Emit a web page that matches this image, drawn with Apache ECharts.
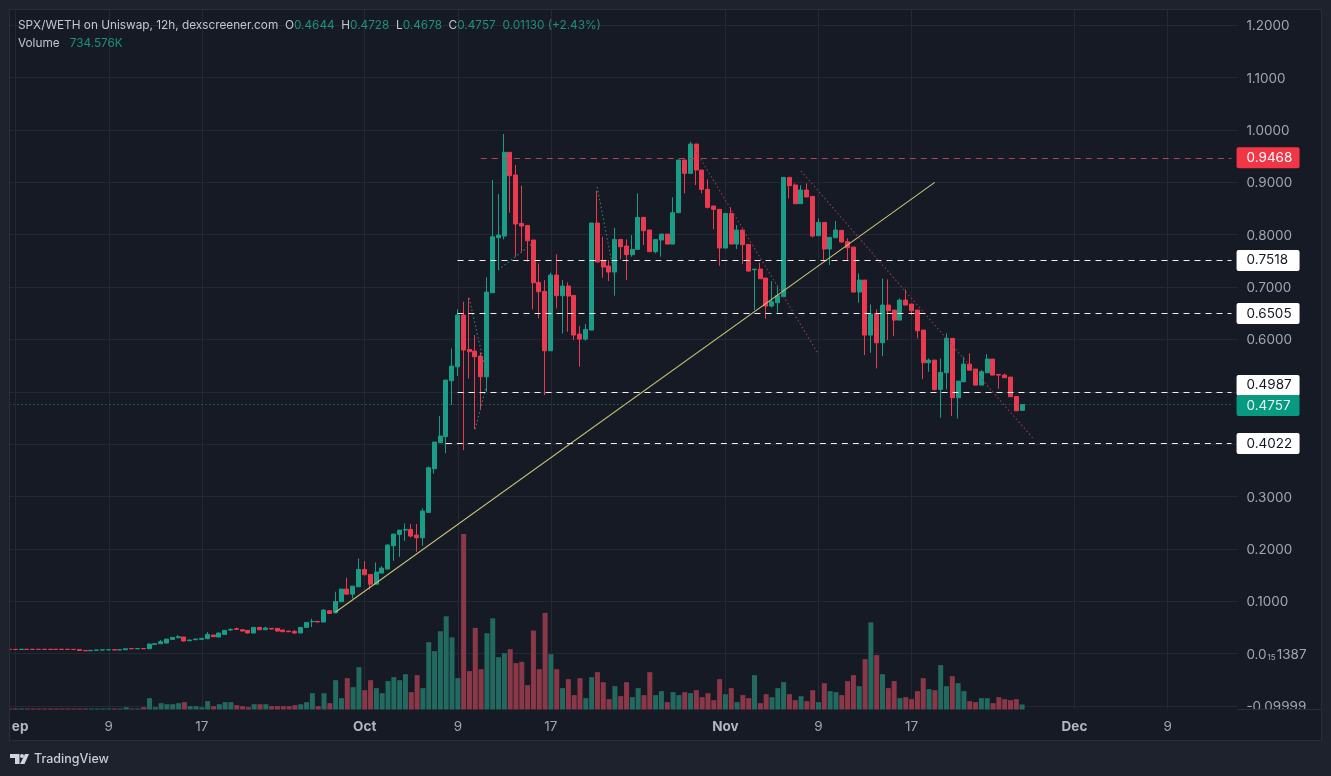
<!DOCTYPE html>
<html>
<head>
    <meta charset="utf-8">
    <title>SPX/WETH on Uniswap</title>
    <style>
        html, body { margin: 0; padding: 0; background: #1e222d; }
        #chart { width: 1331px; height: 776px; }
    </style>
</head>
<body>
<div id="chart"></div>
<script src="https://cdn.jsdelivr.net/npm/echarts@6/dist/echarts.min.js"></script>
<script type="text/javascript">
    // 12h candles, first one is 31 Aug 12:00
    var opens = [.0080,
        .0079,.0077,.0080,.0080,.0080,.0080,.0080,.0080,.0080,.0080,
        .0079,.0075,.0058,.0053,.0060,.0066,.0070,.0072,.0068,.0072,
        .0094,.0090,.0094,.0091,.0174,.0187,.0199,.0270,.0301,.0314,
        .0244,.0263,.0270,.0282,.0352,.0314,.0365,.0448,.0473,.0454,
        .0442,.0391,.0499,.0454,.0480,.0480,.0448,.0429,.0422,.0391,
        .0499,.0607,.0614,.0601,.0816,.0777,.0988,.1230,.1134,.1275,
        .1606,.1510,.1325,.1536,.1612,.2058,.2275,.2357,.2370,.2262,
        .2211,.2695,.3530,.4026,.4141,.5210,.5477,.6464,.5808,.5777,
        .5681,.5286,.6891,.7942,.7974,.9573,.9140,.8216,.8178,.7898,
        .7089,.6917,.5783,.7229,.6834,.7019,.6840,.6101,.6006,.6178,
        .8223,.7503,.7401,.7286,.7910,.7783,.7618,.7719,.8331,.8089,
        .7675,.7898,.8012,.7821,.8420,.9427,.9172,.9732,.9235,.8866,
        .8548,.8484,.7745,.8407,.7821,.8089,.7815,.7331,.7343,.7172,
        .6637,.6700,.6815,.9095,.8949,.8592,.8853,.8732,.7980,.8235,
        .7726,.7942,.8083,.7866,.7764,.6904,.7133,.6082,.6496,.5936,
        .6656,.6560,.6369,.6751,.6675,.6560,.6178,.5554,.5605,.5044,
        .5363,.6019,.4885,.5191,.5528,.5433,.5127,.5362,.5624,.5331,
        .5318,.5280,.4910,.4644];
    var closes = [.0078,
        .0077,.0080,.0078,.0078,.0078,.0078,.0078,.0078,.0078,.0078,
        .0077,.0058,.0052,.0060,.0066,.0070,.0072,.0068,.0072,.0090,
        .0090,.0094,.0091,.0180,.0187,.0225,.0276,.0308,.0320,.0238,
        .0257,.0276,.0289,.0365,.0321,.0391,.0442,.0461,.0461,.0429,
        .0391,.0499,.0454,.0486,.0467,.0429,.0416,.0416,.0391,.0499,
        .0594,.0614,.0601,.0830,.0766,.0994,.1230,.1134,.1287,.1606,
        .1504,.1325,.1555,.1631,.2071,.2281,.2357,.2370,.2243,.2211,
        .2721,.3549,.4039,.4154,.5224,.5490,.6464,.5796,.5764,.5668,
        .5286,.6904,.7961,.7993,.9573,.9127,.8204,.8165,.7885,.7082,
        .6910,.5783,.7229,.6834,.7019,.6828,.6082,.6006,.6191,.8223,
        .7477,.7382,.7286,.7910,.7770,.7618,.7719,.8331,.8076,.7675,
        .7910,.8012,.7821,.8420,.9427,.9172,.9732,.9235,.8866,.8522,
        .8484,.7745,.8407,.7821,.8089,.7809,.7305,.7343,.7159,.6637,
        .6719,.6834,.9095,.8936,.8592,.8853,.8720,.7974,.8235,.7726,
        .7949,.8089,.7860,.7751,.6904,.7133,.6082,.6484,.5936,.6656,
        .6547,.6369,.6751,.6656,.6547,.6165,.5554,.5605,.5044,.5369,
        .6019,.4885,.5203,.5528,.5413,.5127,.5382,.5624,.5318,.5318,
        .5267,.4904,.4636,.4757];
    var lows = [.0076,
        .0075,.0076,.0077,.0076,.0076,.0076,.0076,.0076,.0076,.0076,
        .0074,.0056,.0050,.0052,.0059,.0065,.0069,.0067,.0067,.0071,
        .0089,.0089,.0090,.0085,.0174,.0180,.0199,.0270,.0295,.0232,
        .0238,.0257,.0270,.0282,.0315,.0314,.0365,.0435,.0448,.0422,
        .0385,.0391,.0448,.0454,.0461,.0422,.0410,.0410,.0385,.0391,
        .0493,.0505,.0594,.0601,.0760,.0770,.0988,.1128,.1053,.1275,
        .1498,.1224,.1325,.1530,.1612,.1771,.1848,.2153,.2217,.1943,
        .2058,.2695,.3434,.4026,.3823,.4745,.5299,.3885,.5254,.4286,
        .4649,.4999,.6891,.7324,.7911,.8420,.7579,.7675,.7484,.6573,
        .6401,.4936,.5783,.6592,.6114,.6146,.5987,.5477,.5974,.6178,
        .7477,.7178,.7114,.6834,.7528,.7133,.7579,.7719,.7802,.7675,
        .7643,.7579,.7821,.7821,.8420,.8790,.9172,.8949,.8790,.8503,
        .8102,.7407,.7745,.7821,.7726,.7439,.7293,.6560,.7159,.6395,
        .6611,.6509,.6815,.8694,.8592,.8592,.8720,.7949,.7980,.7516,
        .7420,.7942,.7860,.7516,.6904,.6700,.5700,.5745,.5445,.5681,
        .5986,.6063,.6369,.6656,.6465,.6019,.5241,.5382,.5019,.4502,
        .5044,.4534,.4490,.5191,.5413,.5127,.5127,.5362,.5318,.5057,
        .5267,.4904,.4636,.4644];
    var highs = [.0081,
        .0081,.0090,.0081,.0081,.0081,.0081,.0081,.0081,.0081,.0081,
        .0080,.0076,.0059,.0061,.0067,.0071,.0073,.0073,.0073,.0091,
        .0095,.0095,.0095,.0193,.0187,.0257,.0276,.0315,.0352,.0320,
        .0263,.0282,.0295,.0410,.0358,.0397,.0448,.0480,.0493,.0461,
        .0448,.0505,.0505,.0512,.0486,.0486,.0454,.0435,.0448,.0505,
        .0600,.0665,.0620,.0843,.0824,.1180,.1236,.1446,.1293,.1816,
        .1765,.1516,.1739,.1669,.2090,.2281,.2357,.2485,.2472,.2472,
        .2772,.3568,.4039,.4536,.5224,.5827,.6573,.6719,.6796,.6082,
        .5751,.7184,.9044,.8777,.9923,.9573,.9331,.8936,.8178,.7898,
        .7452,.7133,.7273,.7624,.7133,.7089,.6840,.6255,.6293,.8223,
        .8841,.7961,.7516,.8133,.7910,.7910,.7993,.8790,.8331,.8089,
        .7910,.8012,.8012,.8713,.9427,.9427,.9777,.9732,.9235,.9057,
        .8548,.8484,.8407,.8522,.8184,.8089,.7815,.7343,.7465,.7172,
        .7114,.7038,.9095,.9095,.8981,.8949,.8981,.8732,.8312,.8235,
        .7949,.8261,.8083,.7930,.7764,.7261,.7133,.6668,.6573,.7165,
        .7146,.6560,.6783,.6955,.6675,.6560,.6178,.5637,.5605,.5637,
        .6114,.6019,.5203,.5668,.5732,.5433,.5413,.5719,.5624,.5331,
        .5350,.5280,.4910,.4757];
    // volume in millions
    var volumes = [.15,
        .15,.15,.15,.15,.15,.15,.15,.15,.15,.15,
        .15,.15,.15,.15,.15,.15,.15,.15,.15,.34,
        .15,.15,.34,1.67,.34,.93,.78,.78,.93,1.08,
        .49,.49,.34,1.23,.49,.78,1.08,1.08,.64,.49,
        .34,.78,.78,.78,.49,.49,.49,.49,.64,.78,
        1.08,2.40,.49,2.40,.93,4.31,1.67,4.61,3.28,6.22,
        2.84,4.31,3.14,2.40,4.17,4.75,4.31,5.19,2.55,5.05,
        3.14,9.90,8.58,11.5,13.7,10.6,4.61,25.8,5.64,12.0,
        5.93,11.2,13.4,7.69,8.28,8.87,6.81,7.0,3.58,11.6,
        5.93,14.2,8.13,5.93,3.14,4.46,2.11,4.61,1.67,4.75,
        5.49,4.02,1.52,3.43,1.96,4.02,1.81,3.14,2.11,5.49,
        2.11,2.70,1.08,2.55,2.11,2.55,2.40,2.84,1.81,2.40,
        1.37,4.46,2.25,3.14,1.08,2.11,1.67,5.05,.93,2.25,
        1.81,3.14,4.02,2.25,1.37,1.96,1.23,2.84,1.08,3.87,
        2.70,2.55,2.11,4.17,5.05,3.43,7.40,12.8,7.99,5.19,
        3.14,4.17,1.67,1.81,1.52,2.70,4.61,2.99,2.84,6.52,
        3.43,4.90,3.87,2.70,1.23,1.08,1.67,1.67,.93,1.81,
        1.52,1.37,1.52,.7346];

    var tickLabels = {
        '9-1': 'Sep', '9-9': '9', '9-17': '17',
        '10-1': 'Oct', '10-9': '9', '10-17': '17',
        '11-1': 'Nov', '11-9': '9', '11-17': '17',
        '12-1': 'Dec', '12-9': '9'
    };
    // from -0.1 up to 1.2, 0.5 and 0.4 sit behind the price tags
    var priceLabels = ['-0.09999', '0.0{sub|15}1387', '0.1000', '0.2000', '0.3000', '', '',
        '0.6000', '0.7000', '0.8000', '0.9000', '1.0000', '1.1000', '1.2000'];

    // the price levels drawn on the chart: [price, first category]
    var redLevel = [0.9468, 81];
    var whiteLevels = [[0.7518, 77], [0.6505, 77], [0.4987, 77], [0.4022, 75]];
    var lastPrice = 0.4757;
    // trend lines: [from category, from price, to category, to price]
    var yellowLine = [56, 0.0789, 159, 0.8999];
    var pinkLines = [[117, 0.9771, 139, 0.5721], [136, 0.9217, 176, 0.4097]];
    var tealLines = [[79, 0.6791, 82, 0.5320], [82, 0.5129, 80, 0.4269], [84, 0.7326, 90, 0.7842], [101, 0.8911, 104, 0.7192]];

    var categories = [];
    for (var c = 0; c < 212; c++) {
        var d = new Date(Date.UTC(2024, 7, 31, 12) + c * 12 * 3600 * 1000);
        categories.push(d.getUTCHours() === 0 ? (d.getUTCMonth() + 1) + '-' + d.getUTCDate() : '');
    }

    var UP = '#1a9c86', DOWN = '#ea3a50';
    var GRID = '#242833', TEXT = '#a2a5ad';
    var FONT = 'Inter, Roboto, sans-serif';

    function tag(bg, color, dy) {
        return {
            show: true, position: 'end', distance: 5, offset: [0, dy || 0],
            formatter: function (p) { return p.value.toFixed(4); },
            backgroundColor: bg, color: color, borderRadius: 2,
            fontFamily: FONT, fontSize: 13.5, lineHeight: 21, padding: [0, 6, 0, 10], width: 47, align: 'left'
        };
    }
    function segment(l, style) {
        return [{xAxis: l[0], yAxis: l[1], lineStyle: style, label: {show: false}}, {xAxis: l[2], yAxis: l[3]}];
    }
    function level(price, from, style, label) {
        return [{xAxis: from, yAxis: price, value: price, lineStyle: style, label: label}, {xAxis: 210, yAxis: price}];
    }

    var markLines = [];
    markLines.push(segment(yellowLine, {color: '#c4c273', type: 'solid', width: 1.1}));
    pinkLines.forEach(function (l) {
        markLines.push(segment(l, {color: '#8d3f52', type: [1.5, 2.5], width: 1.1}));
    });
    tealLines.forEach(function (l) {
        markLines.push(segment(l, {color: '#3a7d78', type: [1.5, 2.5], width: 1.1}));
    });
    markLines.push(level(redLevel[0], redLevel[1], {color: '#ad465a', type: [6, 5], width: 1}, tag('#f23645', '#ffffff')));
    whiteLevels.forEach(function (w) {
        // the 0.4987 tag is pushed up off the green last-price tag
        markLines.push(level(w[0], w[1], {color: '#f0f0f0', type: [6, 5], width: 1}, tag('#ffffff', '#131722', w[0] === 0.4987 ? -7 : 0.5)));
    });
    markLines.push(level(lastPrice, 0, {color: '#1f8a78', type: [1, 3], width: 1}, tag('#089981', '#e8f5f2', 1)));

    var candles = opens.map(function (o, i) { return [o, closes[i], lows[i], highs[i]]; });

    var myChart = echarts.init(document.getElementById('chart'));
    myChart.setOption({
        animation: false,
        backgroundColor: '#1e222d',
        title: {
            left: 18, top: 16, padding: 0,
            text: '{w|SPX/WETH on Uniswap, 12h, dexscreener.com  O}{g|0.4644}{w|  H}{g|0.4728}{w|  L}{g|0.4678}{w|  C}{g|0.4757  0.01130 (+2.43%)}\n{w|Volume}  {g|734.576K}',
            textStyle: {
                fontWeight: 'normal',
                rich: {
                    w: {color: '#c3c6ce', fontFamily: FONT, fontWeight: 'normal', fontSize: 11.8, lineHeight: 18},
                    g: {color: '#1f8f7c', fontFamily: FONT, fontWeight: 'normal', fontSize: 11.8, lineHeight: 18}
                }
            }
        },
        grid: [
            {left: 9.38, width: 1228, top: 25.3, height: 680.55},
            {left: 9.38, width: 1228, top: 10, height: 699.5}
        ],
        xAxis: [
            {type: 'category', gridIndex: 0, data: categories, boundaryGap: false, show: false},
            {
                type: 'category', gridIndex: 1, data: categories, boundaryGap: false,
                axisLine: {show: false}, axisTick: {show: false},
                axisLabel: {
                    interval: function (i, v) { return !!tickLabels[v]; },
                    formatter: function (v) {
                        var t = tickLabels[v] || '';
                        return isNaN(t) ? '{m|' + t + '}' : t;
                    },
                    color: TEXT, fontFamily: FONT, fontSize: 13.5, margin: 10,
                    rich: {m: {color: '#b4b7bf', fontFamily: FONT, fontSize: 13.5, fontWeight: 'bold'}}
                },
                splitLine: {
                    show: true,
                    interval: function (i, v) { return !!tickLabels[v]; },
                    lineStyle: {color: GRID, width: 1}
                }
            }
        ],
        yAxis: [
            {
                type: 'value', gridIndex: 0, position: 'right', min: -0.1, max: 1.2, interval: 0.1,
                axisLine: {show: false}, axisTick: {show: false},
                axisLabel: {
                    formatter: function (v, i) { return priceLabels[i]; },
                    color: TEXT, fontFamily: FONT, fontSize: 13.5, margin: 9, padding: [2, 0, 0, 0],
                    rich: {sub: {color: TEXT, fontFamily: FONT, fontSize: 8, verticalAlign: 'bottom', padding: [4, 1, 0, 1]}}
                },
                splitLine: {show: true, lineStyle: {color: GRID, width: 1}}
            },
            {type: 'value', gridIndex: 1, min: 0, max: 102.8, show: false}
        ],
        series: [
            {
                name: 'Volume', type: 'bar', xAxisIndex: 1, yAxisIndex: 1, barWidth: 5, z: 1,
                data: volumes,
                itemStyle: {
                    color: function (p) {
                        return closes[p.dataIndex] >= opens[p.dataIndex] ? '#22695f' : '#8a3848';
                    }
                }
            },
            {
                name: 'SPX/WETH', type: 'candlestick', xAxisIndex: 0, yAxisIndex: 0, barWidth: 4.5, z: 3,
                data: candles,
                itemStyle: {color: UP, color0: DOWN, borderColor: UP, borderColor0: DOWN, borderWidth: 1},
                markLine: {silent: true, symbol: 'none', animation: false, z: 4, data: markLines}
            }
        ],
        graphic: [
            // panel behind everything
            {type: 'rect', z: -1, shape: {x: 10, y: 10, width: 1311, height: 731}, style: {fill: '#161a25'}},
            // hides what falls outside the pane
            {type: 'rect', z: 50, shape: {x: 0, y: 0, width: 10, height: 776}, style: {fill: '#1e222d'}},
            {type: 'rect', z: 50, shape: {x: 10, y: 716, width: 1.5, height: 20}, style: {fill: '#161a25'}},
            {type: 'rect', z: 50, shape: {x: 1238, y: 710, width: 83, height: 30}, style: {fill: '#161a25'}},
            {type: 'line', z: 51, shape: {x1: 1238, y1: 709.5, x2: 1321, y2: 709.5}, style: {stroke: '#2a2e39', lineWidth: 1}},
            {type: 'rect', z: 52, shape: {x: 9.5, y: 9.5, width: 1312, height: 731}, style: {fill: null, stroke: '#2a2e39', lineWidth: 1}},
            // TradingView mark
            {type: 'polygon', z: 52, shape: {points: [[10, 754], [19.5, 754], [19.5, 764], [15, 764], [15, 758], [10, 758]]}, style: {fill: '#d1d4dc'}},
            {type: 'circle', z: 52, shape: {cx: 22, cy: 756, r: 2}, style: {fill: '#d1d4dc'}},
            {type: 'polygon', z: 52, shape: {points: [[25, 754], [29, 754], [24.5, 764], [20, 764]]}, style: {fill: '#d1d4dc'}},
            {type: 'text', z: 52, x: 34, y: 759, style: {text: 'TradingView', fill: '#c9ccd4', font: '500 12.5px ' + FONT, textVerticalAlign: 'middle'}}
        ]
    });
</script>
</body>
</html>
